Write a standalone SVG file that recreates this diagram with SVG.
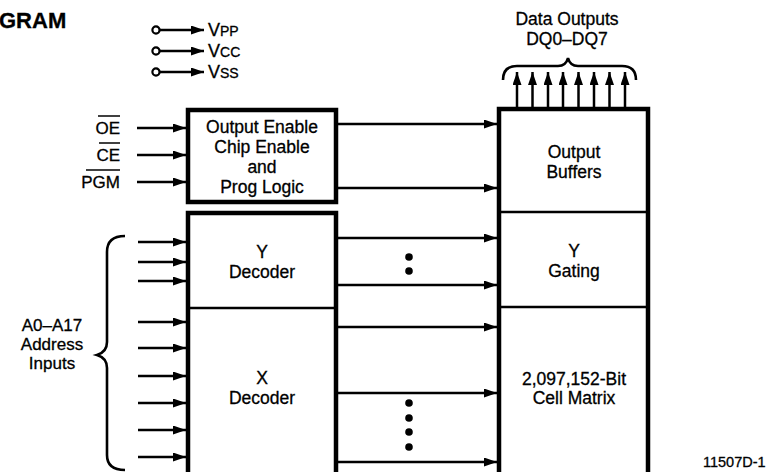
<svg xmlns="http://www.w3.org/2000/svg" width="768" height="472" viewBox="0 0 768 472">
<defs>
<style>
text{font-family:"Liberation Sans",Arial,sans-serif;fill:#000;stroke:#000;stroke-width:0.3;}
.lbl{font-size:17.5px;text-anchor:middle;}
.side{font-size:17px;}
.box{fill:#fff;stroke:#000;stroke-width:4.5;}
.div{stroke:#000;stroke-width:2.5;}
.wire{stroke:#000;stroke-width:2.5;fill:none;}
.brace{stroke:#000;stroke-width:2.6;fill:none;}
.ovl{stroke:#000;stroke-width:1.5;}
</style>
<marker id="ah" markerUnits="userSpaceOnUse" markerWidth="13" markerHeight="9" refX="13" refY="4.5" orient="auto">
<path d="M0,0 L13,4.5 L0,9 z" fill="#000"/>
</marker>
</defs>
<rect width="768" height="472" fill="#fff"/>
<text x="-1" y="28" style="font-size:22px;font-weight:bold">GRAM</text>

<g id="power">
<circle cx="156" cy="30" r="3.6" fill="#fff" stroke="#000" stroke-width="2.2"/>
<line class="wire" x1="160" y1="30" x2="204" y2="30" marker-end="url(#ah)"/>
<text x="208" y="36" style="font-size:18px">V<tspan style="font-size:14px">PP</tspan></text>
<circle cx="156" cy="51" r="3.6" fill="#fff" stroke="#000" stroke-width="2.2"/>
<line class="wire" x1="160" y1="51" x2="204" y2="51" marker-end="url(#ah)"/>
<text x="208" y="57" style="font-size:18px">V<tspan style="font-size:14px">CC</tspan></text>
<circle cx="156" cy="72" r="3.6" fill="#fff" stroke="#000" stroke-width="2.2"/>
<line class="wire" x1="160" y1="72" x2="204" y2="72" marker-end="url(#ah)"/>
<text x="208" y="78" style="font-size:18px">V<tspan style="font-size:14px">SS</tspan></text>
</g>

<g id="data-outputs">
<text x="567" y="25" class="lbl">Data Outputs</text>
<text x="567" y="45" class="lbl">DQ0–DQ7</text>
<path class="brace" d="M503,80 Q503,66 517,66 L558,66 Q566,66 568,58 Q570,66 578,66 L622,66 Q636,66 636,80"/>
</g>

<g id="control-labels">
<text x="120" y="134" class="side" text-anchor="end">OE</text>
<line class="ovl" x1="98" y1="116" x2="120" y2="116"/>
<text x="120" y="161" class="side" text-anchor="end">CE</text>
<line class="ovl" x1="99" y1="143" x2="120" y2="143"/>
<text x="120" y="188" class="side" text-anchor="end">PGM</text>
<line class="ovl" x1="86" y1="170" x2="120" y2="170"/>
</g>

<g id="address-label">
<text x="52" y="331" class="side" text-anchor="middle">A0–A17</text>
<text x="52" y="350" class="side" text-anchor="middle">Address</text>
<text x="52" y="369" class="side" text-anchor="middle">Inputs</text>
<path class="brace" d="M125,236 Q107,236 107,252 L107,342 Q107,352 97,355 Q107,358 107,368 L107,455 Q107,470 125,470"/>
</g>

<g id="control-logic">
<rect class="box" x="188" y="110" width="148" height="92"/>
<text x="262" y="133" class="lbl">Output Enable</text>
<text x="262" y="153" class="lbl">Chip Enable</text>
<text x="262" y="173" class="lbl">and</text>
<text x="262" y="193" class="lbl">Prog Logic</text>
</g>

<g id="decoders">
<rect class="box" x="188" y="213" width="148" height="275"/>
<line class="div" x1="188" y1="308" x2="336" y2="308"/>
<text x="262" y="258" class="lbl">Y</text>
<text x="262" y="278" class="lbl">Decoder</text>
<text x="262" y="384" class="lbl">X</text>
<text x="262" y="404" class="lbl">Decoder</text>
</g>

<g id="memory">
<rect class="box" x="499" y="109" width="149" height="380"/>
<line class="div" x1="499" y1="212" x2="648" y2="212"/>
<line class="div" x1="499" y1="307" x2="648" y2="307"/>
<text x="574" y="158" class="lbl">Output</text>
<text x="574" y="178" class="lbl">Buffers</text>
<text x="574" y="257" class="lbl">Y</text>
<text x="574" y="277" class="lbl">Gating</text>
<text x="574" y="385" class="lbl">2,097,152-Bit</text>
<text x="574" y="404" class="lbl">Cell Matrix</text>
</g>

<text x="703" y="467" style="font-size:14.5px">11507D-1</text>

<g id="connectors">
<line class="wire" x1="517" y1="108" x2="517" y2="72" marker-end="url(#ah)"/>
<line class="wire" x1="532.5" y1="108" x2="532.5" y2="72" marker-end="url(#ah)"/>
<line class="wire" x1="548" y1="108" x2="548" y2="72" marker-end="url(#ah)"/>
<line class="wire" x1="563" y1="108" x2="563" y2="72" marker-end="url(#ah)"/>
<line class="wire" x1="578.5" y1="108" x2="578.5" y2="72" marker-end="url(#ah)"/>
<line class="wire" x1="594" y1="108" x2="594" y2="72" marker-end="url(#ah)"/>
<line class="wire" x1="609.5" y1="108" x2="609.5" y2="72" marker-end="url(#ah)"/>
<line class="wire" x1="625" y1="108" x2="625" y2="72" marker-end="url(#ah)"/>

<line class="wire" x1="137" y1="128" x2="186" y2="128" marker-end="url(#ah)"/>
<line class="wire" x1="137" y1="155" x2="186" y2="155" marker-end="url(#ah)"/>
<line class="wire" x1="137" y1="182" x2="186" y2="182" marker-end="url(#ah)"/>

<line class="wire" x1="338" y1="124" x2="497" y2="124" marker-end="url(#ah)"/>
<line class="wire" x1="338" y1="188" x2="497" y2="188" marker-end="url(#ah)"/>

<line class="wire" x1="138" y1="242" x2="186" y2="242" marker-end="url(#ah)"/>
<line class="wire" x1="138" y1="262" x2="186" y2="262" marker-end="url(#ah)"/>
<line class="wire" x1="138" y1="281" x2="186" y2="281" marker-end="url(#ah)"/>
<line class="wire" x1="138" y1="322" x2="186" y2="322" marker-end="url(#ah)"/>
<line class="wire" x1="138" y1="348" x2="186" y2="348" marker-end="url(#ah)"/>
<line class="wire" x1="138" y1="376" x2="186" y2="376" marker-end="url(#ah)"/>
<line class="wire" x1="138" y1="403" x2="186" y2="403" marker-end="url(#ah)"/>
<line class="wire" x1="138" y1="430" x2="186" y2="430" marker-end="url(#ah)"/>
<line class="wire" x1="138" y1="457" x2="186" y2="457" marker-end="url(#ah)"/>

<line class="wire" x1="338" y1="238" x2="497" y2="238" marker-end="url(#ah)"/>
<line class="wire" x1="338" y1="285" x2="497" y2="285" marker-end="url(#ah)"/>
<line class="wire" x1="338" y1="327" x2="497" y2="327" marker-end="url(#ah)"/>
<line class="wire" x1="338" y1="393" x2="497" y2="393" marker-end="url(#ah)"/>
<line class="wire" x1="338" y1="462" x2="497" y2="462" marker-end="url(#ah)"/>

<circle cx="409" cy="257" r="3.8"/>
<circle cx="409" cy="271" r="3.8"/>
<circle cx="409" cy="403" r="3.8"/>
<circle cx="409" cy="418" r="3.8"/>
<circle cx="409" cy="432" r="3.8"/>
<circle cx="409" cy="447" r="3.8"/>
</g>
</svg>
